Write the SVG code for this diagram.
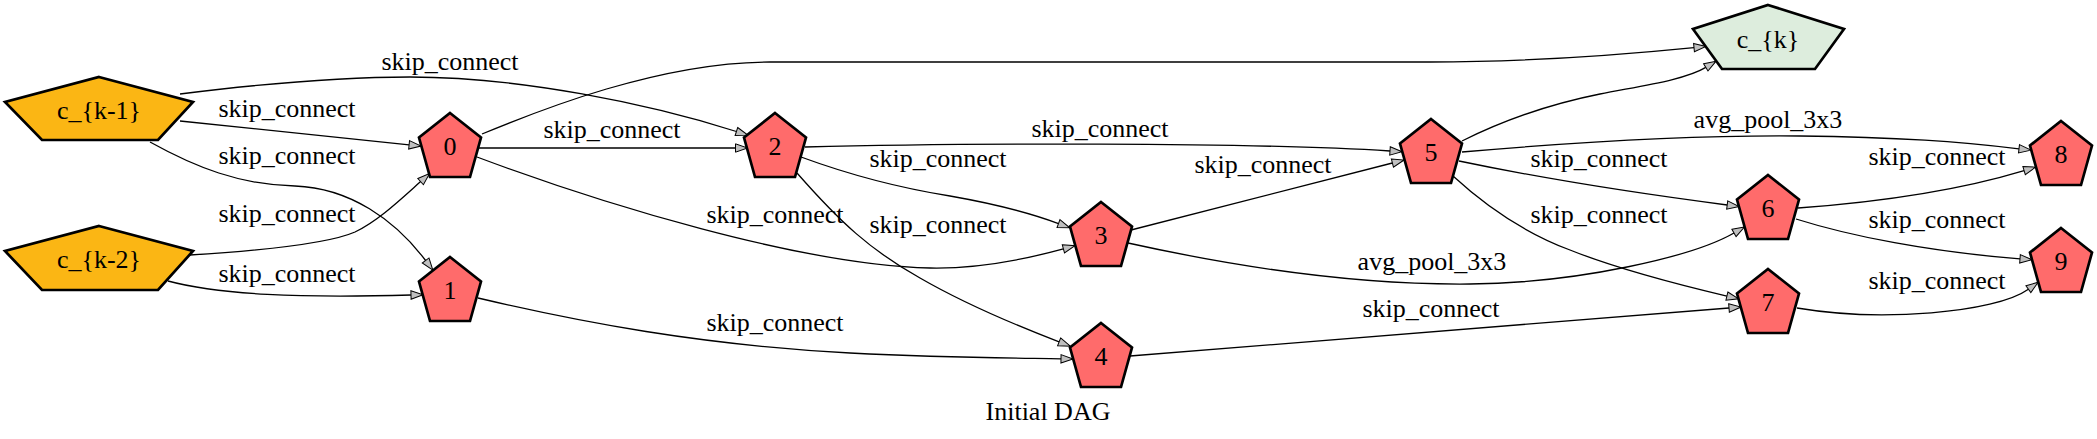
<svg xmlns="http://www.w3.org/2000/svg" width="2097" height="439" viewBox="0 0 2097 439">
<style>
text{font-family:"Liberation Serif","Times New Roman",serif;font-size:26px;fill:#000;text-anchor:middle}
.n{stroke:#000;stroke-width:2.7;stroke-linejoin:miter}
.op{fill:#ff6b6b}
.in{fill:#fbb614}
.out{fill:#ddeddd}
.e path{fill:none;stroke:#000;stroke-width:1.3;marker-end:url(#ah)}
</style>
<defs>
<marker id="ah" viewBox="0 0 12 8.4" refX="0" refY="4.2" markerWidth="12" markerHeight="8.4" markerUnits="userSpaceOnUse" orient="auto" overflow="visible">
<polygon points="0,0 12,4.2 0,8.4" fill="#c0c0c0" stroke="#000" stroke-width="1"/>
</marker>
</defs>
<rect width="2097" height="439" fill="#fff"/>
<g id="connectors" class="e">
<path d="M180,94 C260,84 340,77 410,77 C520,77 650,104 736.4,131.5"/>
<path d="M180,121 L409.1,144.8"/>
<path d="M150,142 C195,167 240,185 295,186 C350,188 395,220 425.6,260.5"/>
<path d="M190,255 C270,250 330,243 355,232 C378,221 400,200 420.6,181.6"/>
<path d="M168,281 C220,295 300,298 411,295"/>
<path d="M482,134 C540,110 660,62 770,62 L1430,62 C1530,62 1620,55 1694,47.6"/>
<path d="M478,148 L735.5,148"/>
<path d="M477,157 C600,203 800,265 930,268 C980,269 1030,258 1063.4,248.9"/>
<path d="M805,147 C950,143 1250,142 1390,151"/>
<path d="M801,157 C850,175 900,188 950,196 C990,203 1030,213 1058.5,223.6"/>
<path d="M797,173 C840,222 870,250 920,278 C965,304 1010,323 1059.1,341.9"/>
<path d="M478,298 C580,322 700,345 850,353 C950,358 1010,358 1061,358.8"/>
<path d="M1131,230 L1392.4,163"/>
<path d="M1128,243 C1250,270 1370,285 1470,284 C1580,283 1694,256 1734,233"/>
<path d="M1130,356 L1729,308"/>
<path d="M1462,152 C1600,140 1700,135 1800,136 C1900,137 1960,142 2019,148.8"/>
<path d="M1459,161 C1550,180 1650,195 1727.2,205"/>
<path d="M1453,176 C1490,210 1530,235 1570,250 C1620,270 1680,285 1726.9,296.1"/>
<path d="M1798,208 C1880,202 1960,190 2024.1,170.6"/>
<path d="M1796,219 C1850,236 1930,252 2020,258.8"/>
<path d="M1797,308 C1880,322 1995,313 2028.4,289.2"/>
<path d="M1462,141 C1500,122 1550,104 1600,94 C1640,86 1685,80 1705.8,67.4"/>
</g>
<g id="edge-labels">
<text x="450" y="70">skip_connect</text>
<text x="287" y="117">skip_connect</text>
<text x="287" y="164">skip_connect</text>
<text x="287" y="222">skip_connect</text>
<text x="287" y="282">skip_connect</text>
<text x="612" y="138">skip_connect</text>
<text x="775" y="223">skip_connect</text>
<text x="1100" y="137">skip_connect</text>
<text x="938" y="167">skip_connect</text>
<text x="938" y="233">skip_connect</text>
<text x="775" y="331">skip_connect</text>
<text x="1263" y="173">skip_connect</text>
<text x="1432" y="270">avg_pool_3x3</text>
<text x="1431" y="317">skip_connect</text>
<text x="1768" y="128">avg_pool_3x3</text>
<text x="1599" y="167">skip_connect</text>
<text x="1599" y="223">skip_connect</text>
<text x="1937" y="165">skip_connect</text>
<text x="1937" y="228">skip_connect</text>
<text x="1937" y="289">skip_connect</text>
</g>
<g id="node-ck1"><polygon class="n in" points="99,77 193,102 158,140 42,140 5,102"/><text x="99" y="119">c_{k-1}</text></g>
<g id="node-ck2"><polygon class="n in" points="99,226 193,251 158,290 42,290 5,251"/><text x="99" y="268">c_{k-2}</text></g>
<g id="node-ck"><polygon class="n out" points="1768,5 1844,29 1815,69 1722,69 1693,29"/><text x="1768" y="48">c_{k}</text></g>
<g id="node-0"><polygon class="n op" points="450,113 481,137.5 470,177 430,177 419,137.5"/><text x="450" y="155">0</text></g>
<g id="node-1"><polygon class="n op" points="450,257 481,281.5 470,321 430,321 419,281.5"/><text x="450" y="299">1</text></g>
<g id="node-2"><polygon class="n op" points="775,113 806,137.5 795,177 755,177 744,137.5"/><text x="775" y="155">2</text></g>
<g id="node-3"><polygon class="n op" points="1101,202 1132,226.5 1121,266 1081,266 1070,226.5"/><text x="1101" y="244">3</text></g>
<g id="node-4"><polygon class="n op" points="1101,323 1132,347.5 1121,387 1081,387 1070,347.5"/><text x="1101" y="365">4</text></g>
<g id="node-5"><polygon class="n op" points="1431,119 1462,143.5 1451,183 1411,183 1400,143.5"/><text x="1431" y="161">5</text></g>
<g id="node-6"><polygon class="n op" points="1768,175 1799,199.5 1788,239 1748,239 1737,199.5"/><text x="1768" y="217">6</text></g>
<g id="node-7"><polygon class="n op" points="1768,269 1799,293.5 1788,333 1748,333 1737,293.5"/><text x="1768" y="311">7</text></g>
<g id="node-8"><polygon class="n op" points="2061,121 2092,145.5 2081,185 2041,185 2030,145.5"/><text x="2061" y="163">8</text></g>
<g id="node-9"><polygon class="n op" points="2061,228 2092,252.5 2081,292 2041,292 2030,252.5"/><text x="2061" y="270">9</text></g>
<text id="caption" x="1048" y="420">Initial DAG</text>
</svg>
